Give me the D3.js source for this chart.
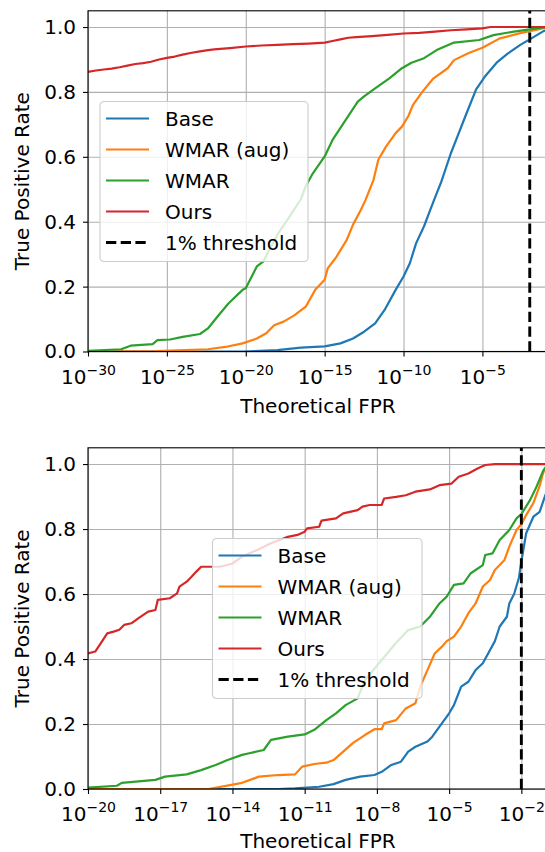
<!DOCTYPE html>
<html>
<head>
<meta charset="utf-8">
<script src="https://cdn.jsdelivr.net/npm/d3@7/dist/d3.min.js"></script>
<style>
  body { margin: 0; background: #fff; }
  svg { display: block; font-family: "DejaVu Sans", sans-serif; }
</style>
</head>
<body>
<svg id="chart" width="545" height="852"></svg>
<script>
// ROC-style curves: [log10(theoretical FPR), true positive rate]

// --- top panel ---
const topBase = [[-30, 0], [-20.2, 0], [-18, 0.004], [-16.5, 0.012], [-15, 0.016], [-14, 0.025],
  [-13.2, 0.04], [-12.5, 0.061], [-11.8, 0.087], [-11.2, 0.128], [-10.5, 0.19], [-10, 0.231],
  [-9.6, 0.272], [-9.2, 0.334], [-8.7, 0.386], [-8.3, 0.437], [-8.0, 0.475], [-7.6, 0.524],
  [-7.0, 0.611], [-6.5, 0.673], [-6.0, 0.735], [-5.4, 0.808], [-4.8, 0.85], [-4.1, 0.89],
  [-3.4, 0.918], [-2.6, 0.945], [-2.0, 0.962], [-1.1, 0.988], [-0.5, 1.0]];
const topAug = [[-30, 0], [-25.7, 0.001], [-22.4, 0.007], [-21.3, 0.014], [-20.2, 0.025], [-19.3, 0.04],
  [-18.7, 0.056], [-18.2, 0.081], [-17.6, 0.092], [-16.9, 0.112], [-16.2, 0.138], [-15.6, 0.19],
  [-15.0, 0.221], [-14.8, 0.257], [-14.3, 0.288], [-13.6, 0.344], [-13.2, 0.391], [-12.7, 0.437],
  [-12.4, 0.468], [-11.9, 0.529], [-11.6, 0.591], [-11.1, 0.632], [-10.5, 0.673], [-10.1, 0.693],
  [-9.7, 0.725], [-9.4, 0.76], [-8.8, 0.801], [-8.1, 0.842], [-7.2, 0.873], [-6.8, 0.898],
  [-5.9, 0.919], [-5.0, 0.936], [-3.9, 0.965], [-2.6, 0.981], [-1.7, 0.99], [-0.8, 1.0]];
const topWmar = [[-30, 0.002], [-27.9, 0.007], [-27.3, 0.018], [-25.9, 0.023], [-25.6, 0.035],
  [-24.8, 0.037], [-24, 0.045], [-22.9, 0.054], [-22.4, 0.071], [-21.8, 0.107], [-21.1, 0.148],
  [-20.2, 0.19], [-20, 0.195], [-19.3, 0.262], [-18.9, 0.277], [-18.0, 0.36], [-17.3, 0.41],
  [-16.5, 0.47], [-16.2, 0.509], [-15.8, 0.545], [-15.0, 0.601], [-14.5, 0.652], [-13.8, 0.704],
  [-12.9, 0.77], [-12.5, 0.786], [-11.8, 0.811], [-10.9, 0.842], [-10.1, 0.873], [-9.5, 0.89],
  [-8.7, 0.904], [-7.9, 0.929], [-6.8, 0.952], [-5.2, 0.96], [-4.3, 0.975], [-3.0, 0.986],
  [-2.0, 0.993], [-1.0, 1.0]];
const topOurs = [[-30, 0.862], [-29.5, 0.866], [-29, 0.869], [-28.5, 0.872], [-28, 0.876],
  [-27.5, 0.881], [-27, 0.886], [-26.5, 0.889], [-26, 0.893], [-25.5, 0.9], [-25, 0.905],
  [-24.5, 0.909], [-24, 0.915], [-23.5, 0.92], [-23, 0.924], [-22.5, 0.928], [-22, 0.931],
  [-21, 0.935], [-20, 0.94], [-19, 0.943], [-18, 0.945], [-17, 0.947], [-16, 0.949], [-15, 0.952],
  [-14.5, 0.957], [-14, 0.962], [-13.5, 0.967], [-13, 0.969], [-12, 0.972], [-11, 0.976],
  [-10, 0.98], [-9, 0.982], [-8, 0.986], [-7, 0.99], [-6, 0.993], [-5, 0.996], [-4.5, 1.0], [0, 1.0]];

// --- bottom panel ---
const botBase = [[-20, 0], [-12.1, 0], [-11.4, 0.002], [-10.4, 0.007], [-9.8, 0.015], [-9.3, 0.028],
  [-8.7, 0.038], [-8.1, 0.043], [-7.8, 0.053], [-7.4, 0.074], [-7.0, 0.084], [-6.7, 0.115],
  [-6.4, 0.13], [-5.9, 0.146], [-5.7, 0.161], [-5.4, 0.192], [-5.0, 0.233], [-4.8, 0.258],
  [-4.5, 0.315], [-4.2, 0.33], [-3.9, 0.366], [-3.6, 0.387], [-3.3, 0.428], [-3.1, 0.455],
  [-2.9, 0.5], [-2.6, 0.53], [-2.5, 0.571], [-2.3, 0.6], [-2.1, 0.65], [-2.0, 0.7], [-1.8, 0.787],
  [-1.5, 0.838], [-1.24, 0.853], [-1.0, 0.905], [-0.5, 0.96]];
const botAug = [[-20, 0], [-15.0, 0], [-14.1, 0.012], [-13.6, 0.019], [-12.9, 0.038], [-12.1, 0.043],
  [-11.4, 0.045], [-11.1, 0.069], [-10.6, 0.077], [-10.1, 0.081], [-9.8, 0.089], [-9.4, 0.115],
  [-9.0, 0.141], [-8.5, 0.166], [-8.1, 0.184], [-7.8, 0.184], [-7.7, 0.202], [-7.2, 0.212],
  [-6.8, 0.248], [-6.4, 0.264], [-6.2, 0.315], [-5.9, 0.366], [-5.6, 0.417], [-5.3, 0.438],
  [-5.1, 0.455], [-4.8, 0.469], [-4.5, 0.5], [-4.2, 0.541], [-3.9, 0.571], [-3.6, 0.623],
  [-3.3, 0.643], [-3.1, 0.674], [-2.7, 0.705], [-2.5, 0.746], [-2.2, 0.797], [-2.0, 0.815],
  [-1.8, 0.843], [-1.5, 0.88], [-1.23, 0.935], [-1.1, 0.972], [-0.9, 1.0]];
const botWmar = [[-20, 0.004], [-18.8, 0.01], [-18.6, 0.019], [-17.2, 0.028], [-16.8, 0.038],
  [-15.9, 0.045], [-15.3, 0.058], [-14.7, 0.074], [-14.2, 0.089], [-13.6, 0.105], [-13.3, 0.11],
  [-12.7, 0.12], [-12.4, 0.151], [-11.7, 0.161], [-11.0, 0.168], [-10.6, 0.182], [-10.1, 0.212],
  [-9.7, 0.233], [-9.3, 0.258], [-8.8, 0.279], [-8.5, 0.335], [-7.8, 0.397], [-7.2, 0.45],
  [-6.7, 0.489], [-6.2, 0.5], [-5.8, 0.53], [-5.4, 0.571], [-5.1, 0.592], [-4.8, 0.628],
  [-4.4, 0.633], [-4.1, 0.664], [-3.6, 0.689], [-3.5, 0.72], [-3.2, 0.725], [-2.9, 0.766],
  [-2.5, 0.797], [-2.2, 0.833], [-2.0, 0.846], [-1.64, 0.889], [-1.37, 0.93], [-1.09, 0.98], [-0.9, 1.0]];
const botOurs = [[-20, 0.417], [-19.7, 0.423], [-19.5, 0.445], [-19.2, 0.479], [-18.9, 0.485],
  [-18.7, 0.49], [-18.5, 0.505], [-18.2, 0.51], [-17.9, 0.526], [-17.5, 0.546], [-17.2, 0.551],
  [-17.1, 0.582], [-16.6, 0.587], [-16.3, 0.602], [-16.2, 0.623], [-15.9, 0.638], [-15.7, 0.653],
  [-15.5, 0.669], [-15.3, 0.684], [-14.5, 0.684], [-14.0, 0.694], [-13.6, 0.715], [-13.0, 0.735],
  [-12.4, 0.756], [-11.7, 0.776], [-11.3, 0.782], [-11.0, 0.792], [-10.9, 0.802], [-10.4, 0.807],
  [-10.3, 0.826], [-9.7, 0.833], [-9.4, 0.848], [-8.8, 0.858], [-8.6, 0.869], [-8.3, 0.874],
  [-7.8, 0.874], [-7.7, 0.894], [-7.2, 0.899], [-6.8, 0.904], [-6.4, 0.915], [-5.8, 0.922],
  [-5.4, 0.935], [-4.9, 0.94], [-4.6, 0.961], [-4.2, 0.971], [-3.8, 0.987], [-3.5, 0.997],
  [-3.1, 1.0], [0, 1.0]];

const SERIES_NAMES = ["Base", "WMAR (aug)", "WMAR", "Ours"];
const COLORS = ["#1f77b4", "#ff7f0e", "#2ca02c", "#d62728"];
const THRESHOLD_LABEL = "1% threshold";
const thresholdLog = -2;
const yTicks = [0, 0.2, 0.4, 0.6, 0.8, 1.0];
const topXTicks = [-30, -25, -20, -15, -10, -5];
const botXTicks = [-20, -17, -14, -11, -8, -5, -2];

const FONT = 20;
const svg = d3.select("#chart");

function drawPanel(opt) {
  const { left, right, top, bottom } = opt;
  const x = d3.scaleLog().domain(opt.xDomain).range(opt.xRange);
  const y = d3.scaleLinear().domain([0, 1.05]).range([bottom, top]);
  const g = svg.append("g");

  const clipId = "clip-" + opt.id;
  g.append("clipPath").attr("id", clipId)
    .append("rect").attr("x", left).attr("y", top).attr("width", right - left).attr("height", bottom - top);

  // grid
  g.append("g").attr("transform", `translate(0,${bottom})`)
    .call(d3.axisBottom(x).tickValues(opt.xTicks.map(e => 10 ** e)).tickSize(-(bottom - top)).tickFormat(""))
    .call(a => a.select(".domain").remove())
    .call(a => a.selectAll("line").attr("stroke", "#b0b0b0").attr("stroke-width", 1.1));
  g.append("g").attr("transform", `translate(${left},0)`)
    .call(d3.axisLeft(y).tickValues(yTicks).tickSize(-(right - left)).tickFormat(""))
    .call(a => a.select(".domain").remove())
    .call(a => a.selectAll("line").attr("stroke", "#b0b0b0").attr("stroke-width", 1.1));

  // curves
  const line = d3.line().x(d => x(10 ** d[0])).y(d => y(d[1]));
  const plot = g.append("g").attr("clip-path", `url(#${clipId})`);
  opt.series.forEach((s, i) => {
    plot.append("path").datum(s)
      .attr("fill", "none").attr("stroke", COLORS[i]).attr("stroke-width", 2.2)
      .attr("stroke-linejoin", "round").attr("d", line);
  });
  plot.append("line")
    .attr("x1", x(10 ** thresholdLog)).attr("x2", x(10 ** thresholdLog))
    .attr("y1", bottom).attr("y2", top)
    .attr("stroke", "#000").attr("stroke-width", 2.9).attr("stroke-dasharray", "10.3,4.4");

  // x axis with 10^n labels
  const xa = g.append("g").attr("transform", `translate(0,${bottom})`)
    .call(d3.axisBottom(x).tickValues(opt.xTicks.map(e => 10 ** e)).tickSize(5).tickFormat(""));
  xa.select(".domain").remove();
  xa.selectAll(".tick line").attr("stroke", "#000").attr("stroke-width", 1.1);
  xa.selectAll(".tick").each(function (d) {
    const e = Math.round(Math.log10(d));
    const t = d3.select(this).append("text")
      .attr("y", 32).attr("text-anchor", "middle").attr("fill", "#000")
      .attr("font-size", FONT).attr("font-family", "DejaVu Sans");
    t.append("tspan").text("10");
    t.append("tspan").attr("dy", -9).attr("font-size", 14).text("\u2212" + Math.abs(e));
  });

  // y axis
  const ya = g.append("g").attr("transform", `translate(${left},0)`)
    .call(d3.axisLeft(y).tickValues(yTicks).tickSize(5).tickPadding(7).tickFormat(d3.format(".1f")));
  ya.select(".domain").remove();
  ya.selectAll(".tick line").attr("stroke", "#000").attr("stroke-width", 1.1);
  ya.selectAll(".tick text").attr("font-size", FONT).attr("font-family", "DejaVu Sans").attr("fill", "#000");

  // spines
  g.append("rect").attr("x", left).attr("y", top).attr("width", right - left).attr("height", bottom - top)
    .attr("fill", "none").attr("stroke", "#000").attr("stroke-width", 1.1);

  // axis titles
  g.append("text").attr("x", (left + right) / 2).attr("y", bottom + opt.titleGap)
    .attr("text-anchor", "middle").attr("font-size", FONT).text("Theoretical FPR");
  g.append("text").attr("transform", `translate(29,${(top + bottom) / 2}) rotate(-90)`)
    .attr("text-anchor", "middle").attr("font-size", FONT).text("True Positive Rate");

  // legend
  const L = opt.legend;
  const lg = g.append("g").attr("transform", `translate(${L.x},${L.y})`);
  lg.append("rect").attr("width", L.w).attr("height", L.h).attr("rx", 4)
    .attr("fill", "#fff").attr("fill-opacity", 0.8).attr("stroke", "#cccccc").attr("stroke-width", 1.1);
  const entries = SERIES_NAMES.map((n, i) => ({ name: n, color: COLORS[i], dash: null }))
    .concat([{ name: THRESHOLD_LABEL, color: "#000", dash: "10.3,4.4" }]);
  entries.forEach((en, i) => {
    const cy = 17 + i * 31;
    lg.append("line").attr("x1", 6).attr("x2", 49).attr("y1", cy).attr("y2", cy)
      .attr("stroke", en.color).attr("stroke-width", en.dash ? 2.9 : 2.2)
      .attr("stroke-dasharray", en.dash);
    lg.append("text").attr("x", 65).attr("y", cy).attr("dy", "0.36em")
      .attr("font-size", FONT).text(en.name);
  });
}

drawPanel({
  id: "top", left: 88, right: 548, top: 10.8, bottom: 351.5, titleGap: 61,
  xDomain: [1e-30, 1], xRange: [88, 561.3], xTicks: topXTicks,
  series: [topBase, topAug, topWmar, topOurs],
  legend: { x: 100, y: 101.5, w: 208, h: 160 }
});
drawPanel({
  id: "bot", left: 88, right: 548, top: 447.8, bottom: 789, titleGap: 59,
  xDomain: [1e-20, 1], xRange: [88, 569.5], xTicks: botXTicks,
  series: [botBase, botAug, botWmar, botOurs],
  legend: { x: 212.5, y: 538.5, w: 209.5, h: 160 }
});
</script>
</body>
</html>
